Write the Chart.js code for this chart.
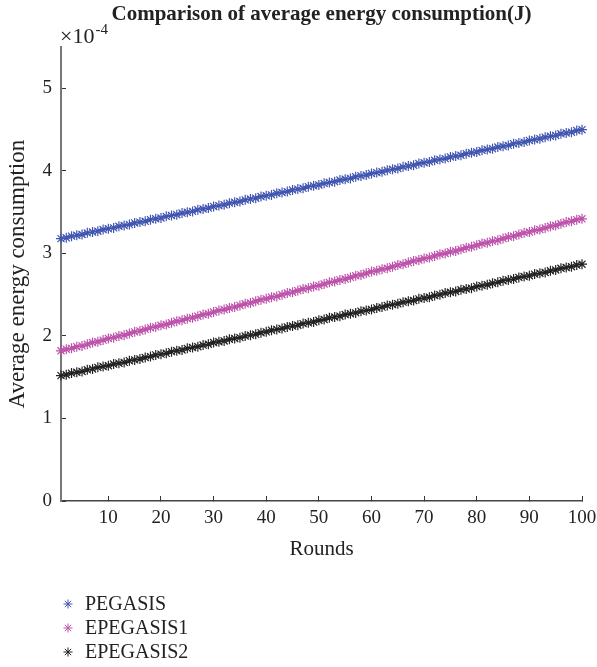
<!DOCTYPE html>
<html>
<head>
<meta charset="utf-8">
<script src="https://cdn.jsdelivr.net/npm/chart.js@4"></script>
<style>
  body { margin: 0; background: #fff; }
</style>
</head>
<body>
<canvas id="myChart" width="597" height="667"></canvas>
<script>
// Rounds on the x-axis
const rounds = [1, 2, 3, 4, 5, 6, 7, 8, 9, 10,
    11, 12, 13, 14, 15, 16, 17, 18, 19, 20,
    21, 22, 23, 24, 25, 26, 27, 28, 29, 30,
    31, 32, 33, 34, 35, 36, 37, 38, 39, 40,
    41, 42, 43, 44, 45, 46, 47, 48, 49, 50,
    51, 52, 53, 54, 55, 56, 57, 58, 59, 60,
    61, 62, 63, 64, 65, 66, 67, 68, 69, 70,
    71, 72, 73, 74, 75, 76, 77, 78, 79, 80,
    81, 82, 83, 84, 85, 86, 87, 88, 89, 90,
    91, 92, 93, 94, 95, 96, 97, 98, 99, 100];

// Average energy consumption, in units of 1e-4 J
const pegasis = [3.18, 3.19, 3.21, 3.22, 3.23, 3.25, 3.26, 3.27, 3.29, 3.30,
    3.31, 3.33, 3.34, 3.35, 3.37, 3.38, 3.39, 3.41, 3.42, 3.43,
    3.45, 3.46, 3.47, 3.49, 3.50, 3.51, 3.53, 3.54, 3.55, 3.57,
    3.58, 3.59, 3.61, 3.62, 3.63, 3.65, 3.66, 3.67, 3.69, 3.70,
    3.71, 3.73, 3.74, 3.75, 3.77, 3.78, 3.79, 3.81, 3.82, 3.83,
    3.85, 3.86, 3.87, 3.89, 3.90, 3.91, 3.93, 3.94, 3.95, 3.97,
    3.98, 3.99, 4.01, 4.02, 4.03, 4.05, 4.06, 4.07, 4.09, 4.10,
    4.11, 4.13, 4.14, 4.15, 4.17, 4.18, 4.19, 4.21, 4.22, 4.23,
    4.25, 4.26, 4.27, 4.29, 4.30, 4.31, 4.33, 4.34, 4.35, 4.37,
    4.38, 4.39, 4.41, 4.42, 4.43, 4.45, 4.46, 4.47, 4.49, 4.50];

const epegasis1 = [1.82, 1.84, 1.85, 1.87, 1.88, 1.90, 1.92, 1.93, 1.95, 1.97,
    1.98, 2.00, 2.01, 2.03, 2.05, 2.06, 2.08, 2.10, 2.11, 2.13,
    2.14, 2.16, 2.18, 2.19, 2.21, 2.22, 2.24, 2.26, 2.27, 2.29,
    2.31, 2.32, 2.34, 2.35, 2.37, 2.39, 2.40, 2.42, 2.44, 2.45,
    2.47, 2.48, 2.50, 2.52, 2.53, 2.55, 2.57, 2.58, 2.60, 2.61,
    2.63, 2.65, 2.66, 2.68, 2.69, 2.71, 2.73, 2.74, 2.76, 2.78,
    2.79, 2.81, 2.82, 2.84, 2.86, 2.87, 2.89, 2.91, 2.92, 2.94,
    2.95, 2.97, 2.99, 3.00, 3.02, 3.03, 3.05, 3.07, 3.08, 3.10,
    3.12, 3.13, 3.15, 3.16, 3.18, 3.20, 3.21, 3.23, 3.25, 3.26,
    3.28, 3.29, 3.31, 3.33, 3.34, 3.36, 3.38, 3.39, 3.41, 3.42];

const epegasis2 = [1.52, 1.53, 1.55, 1.56, 1.57, 1.59, 1.60, 1.62, 1.63, 1.64,
    1.66, 1.67, 1.68, 1.70, 1.71, 1.72, 1.74, 1.75, 1.77, 1.78,
    1.79, 1.81, 1.82, 1.83, 1.85, 1.86, 1.87, 1.89, 1.90, 1.92,
    1.93, 1.94, 1.96, 1.97, 1.98, 2.00, 2.01, 2.02, 2.04, 2.05,
    2.07, 2.08, 2.09, 2.11, 2.12, 2.13, 2.15, 2.16, 2.17, 2.19,
    2.20, 2.22, 2.23, 2.24, 2.26, 2.27, 2.28, 2.30, 2.31, 2.32,
    2.34, 2.35, 2.37, 2.38, 2.39, 2.41, 2.42, 2.43, 2.45, 2.46,
    2.47, 2.49, 2.50, 2.52, 2.53, 2.54, 2.56, 2.57, 2.58, 2.60,
    2.61, 2.62, 2.64, 2.65, 2.67, 2.68, 2.69, 2.71, 2.72, 2.73,
    2.75, 2.76, 2.77, 2.79, 2.80, 2.82, 2.83, 2.84, 2.86, 2.87];

// Tick labels
const xTicks = [10, 20, 30, 40, 50, 60, 70, 80, 90, 100];
const yTicks = [0, 1, 2, 3, 4, 5];

const serif = 'Liberation Serif';

// Draws the "x10^-4" multiplier above the y-axis
const exponentLabel = {
    id: 'exponentLabel',
    afterDraw(chart) {
        const ctx = chart.ctx;
        const left = chart.chartArea.left - 1;
        ctx.save();
        ctx.fillStyle = '#222';
        ctx.textBaseline = 'alphabetic';
        ctx.textAlign = 'left';
        ctx.font = '22px "' + serif + '"';
        ctx.fillText('\u00d710', left, 43);
        const w = ctx.measureText('\u00d710').width;
        ctx.font = '15px "' + serif + '"';
        ctx.fillText('-4', left + w + 1, 34);
        ctx.restore();
    }
};

// Vertical legend under the x-axis, one entry per row
const stackedLegend = {
    id: 'stackedLegend',
    afterDraw(chart) {
        const ctx = chart.ctx;
        ctx.save();
        ctx.font = '20px "' + serif + '"';
        ctx.textBaseline = 'middle';
        ctx.textAlign = 'left';
        chart.data.datasets.forEach((ds, i) => {
            const y = 604 + i * 24;
            ctx.strokeStyle = ds.borderColor;
            ctx.lineWidth = 1;
            Chart.helpers.drawPoint(ctx, { pointStyle: 'star', radius: 4.5, borderWidth: 1 }, 68, y);
            ctx.fillStyle = '#222';
            ctx.fillText(ds.label, 85, y + 1);
        });
        ctx.restore();
    }
};

function makeDataset(label, values, color) {
    return {
        label: label,
        data: values,
        borderColor: color,
        backgroundColor: color,
        pointBorderColor: color,
        borderWidth: 1.2,
        pointStyle: 'star',
        pointRadius: 5,
        pointBorderWidth: 1.2,
        fill: false,
        clip: false
    };
}

const ctx = document.getElementById('myChart').getContext('2d');
const myChart = new Chart(ctx, {
    type: 'line',
    data: {
        labels: rounds,
        datasets: [
            makeDataset('PEGASIS', pegasis, '#4055b0'),
            makeDataset('EPEGASIS1', epegasis1, '#bd52aa'),
            makeDataset('EPEGASIS2', epegasis2, '#222222')
        ]
    },
    plugins: [exponentLabel, stackedLegend],
    options: {
        responsive: false,
        animation: false,
        layout: { padding: { left: 0, right: 15, top: 0, bottom: 77 } },
        plugins: {
            title: {
                display: true,
                text: 'Comparison of average energy consumption(J)',
                fullSize: false,
                color: '#222',
                font: { family: serif, size: 21, weight: 'bold' },
                padding: { top: 2, bottom: 20 }
            },
            legend: { display: false },
            tooltip: { enabled: false }
        },
        scales: {
            x: {
                type: 'linear',
                min: 1,
                max: 100,
                afterBuildTicks: scale => { scale.ticks = xTicks.map(v => ({ value: v })); },
                afterFit: scale => {
                    scale.height = 89;
                    scale.paddingLeft = 0;
                    scale.paddingRight = 0;
                },
                grid: { display: true, drawOnChartArea: false, tickLength: -5, color: '#333', tickWidth: 1 },
                border: { color: '#444', width: 1.5 },
                ticks: { padding: 11, color: '#222', font: { family: serif, size: 19 }, maxRotation: 0 },
                title: {
                    display: true,
                    text: 'Rounds',
                    color: '#222',
                    font: { family: serif, size: 21 },
                    padding: { top: 0, bottom: 28 }
                }
            },
            y: {
                min: 0,
                max: 5.5,
                afterBuildTicks: scale => { scale.ticks = yTicks.map(v => ({ value: v })); },
                afterFit: scale => { scale.width = 61; },
                grid: { display: true, drawOnChartArea: false, tickLength: -5, color: '#333', tickWidth: 1 },
                border: { color: '#777', width: 2 },
                ticks: { padding: 14, color: '#222', font: { family: serif, size: 19 } },
                title: {
                    display: true,
                    text: 'Average energy consumption',
                    color: '#222',
                    font: { family: serif, size: 23 },
                    padding: { top: 4, bottom: 0 }
                }
            }
        }
    }
});
</script>
</body>
</html>
